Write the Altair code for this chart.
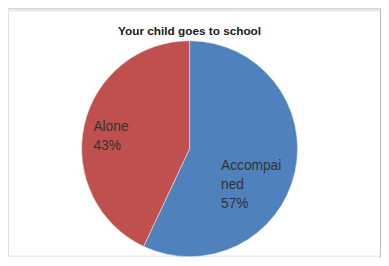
import altair as alt
import pandas as pd

categories = ["Accompanied", "Alone"]
values = [57, 43]
label_lines = [["Accompai", "ned", "57%"], ["Alone", "43%"]]
colors = ["#4F81BD", "#C0504D"]
title_text = "Your child goes to school"

df = pd.DataFrame({
    "category": categories,
    "value": values,
    "order": list(range(len(categories))),
    "label": ["\n".join(l) for l in label_lines],
})

W, H = 380, 250
CX, CY, R = 185, 141, 110

pie = alt.Chart(df).mark_arc(radius=R, stroke="#e8e8e8", strokeWidth=0.6).encode(
    theta=alt.Theta("value:Q", stack=True),
    color=alt.Color("category:N", scale=alt.Scale(domain=categories, range=colors), legend=None),
    order=alt.Order("order:Q"),
    x=alt.value(CX),
    y=alt.value(CY),
)

def label_layer(cat, x, y):
    return alt.Chart(df).transform_filter(alt.datum.category == cat).mark_text(
        align="left", baseline="top", lineBreak="\n", fontSize=14,
        font="Liberation Sans", color="#333333", lineHeight=19,
    ).encode(text="label:N", x=alt.value(x), y=alt.value(y))

lab_acc = label_layer("Accompanied", 217, 152)
lab_alone = label_layer("Alone", 87, 112)

title = alt.Chart(df).transform_filter(alt.datum.order == 0).mark_text(
    fontSize=12, fontWeight="bold", font="Liberation Sans", color="#1a1a1a",
    align="center", baseline="middle",
).encode(text=alt.value(title_text), x=alt.value(CX), y=alt.value(21))

one = alt.Chart(df).transform_filter(alt.datum.order == 0)
border_style = dict(color="#bdbdbd", strokeWidth=1)
b_top = one.mark_rule(**border_style).encode(x=alt.value(-1.5), x2=alt.value(W - 0.5), y=alt.value(-1.5))
b_left = one.mark_rule(**border_style).encode(x=alt.value(-1.5), y=alt.value(-1.5), y2=alt.value(H + 2))
b_right = one.mark_rule(**border_style).encode(x=alt.value(W - 0.5), y=alt.value(-1.5), y2=alt.value(H + 2))

chart = alt.layer(pie, lab_acc, lab_alone, title, b_top, b_left, b_right).properties(
    width=W, height=H, padding=0, autosize=alt.AutoSizeParams(type="none"),
).configure_view(stroke=None, fill=None).configure(background="transparent")

chart.save("out.html", embed_options={"renderer": "svg", "actions": False})
